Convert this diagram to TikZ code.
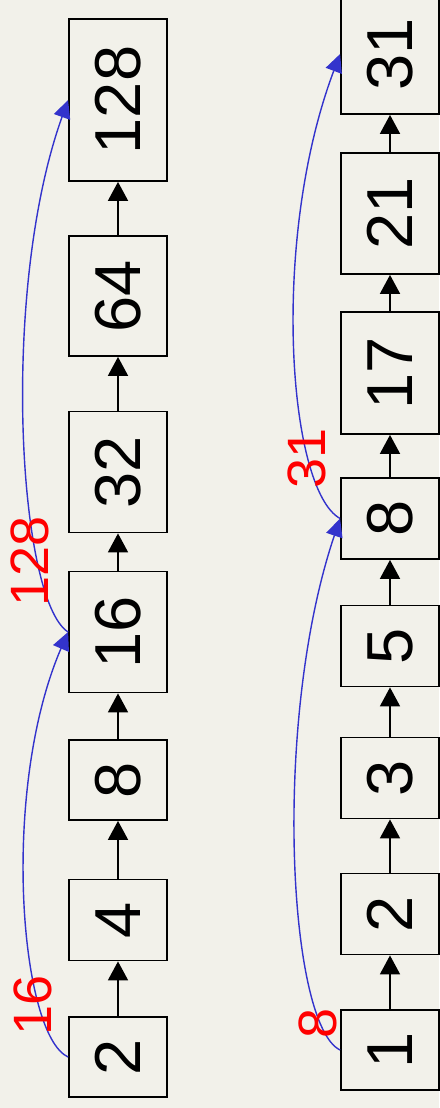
\documentclass[tikz,border=0pt]{standalone}
\usepackage{fontspec}
\usepackage{graphicx}
\setmainfont{Liberation Sans}
\usetikzlibrary{arrows.meta}
\definecolor{paper}{HTML}{F2F1EA}
\definecolor{linkblue}{HTML}{3333CC}
\tikzset{
  cell/.style={draw=black, line width=1.8pt, inner sep=0pt, minimum width=98pt,
    font=\fontsize{65}{78}\selectfont},
  next/.style={draw=black, line width=1.8pt, -{Triangle[length=19pt,width=20pt]}},
  skip/.style={draw=linkblue, line width=1.4pt, -{Triangle[length=18pt,width=17pt]}, linkblue},
  skiplabel/.style={text=red, inner sep=0pt, font=\fontsize{54}{64}\selectfont}
}
\newcommand{\up}[1]{\rotatebox{90}{#1}}
\begin{document}
\begin{tikzpicture}[x=1pt,y=-1pt]
\useasboundingbox (0,0) rectangle (439,1108);
\fill[paper] (0,0) rectangle (439,1108);

% left list
\node[cell, minimum height=80pt]  (a2)   at (118,1057) {\up{2}};
\node[cell, minimum height=81pt]  (a4)   at (118,920)  {\up{4}};
\node[cell, minimum height=80pt]  (a8)   at (118,780)  {\up{8}};
\node[cell, minimum height=121pt] (a16)  at (118,632)  {\up{16}};
\node[cell, minimum height=121pt] (a32)  at (118,472)  {\up{32}};
\node[cell, minimum height=120pt] (a64)  at (118,296)  {\up{64}};
\node[cell, minimum height=162pt] (a128) at (118,100)  {\up{128}};

\draw[next] (a2) -- (a4);
\draw[next] (a4) -- (a8);
\draw[next] (a8) -- (a16);
\draw[next] (a16) -- (a32);
\draw[next] (a32) -- (a64);
\draw[next] (a64) -- (a128);

\draw[skip] (a2.west) .. controls (20,1035) and (0,790) .. (a16.west);
\draw[skip] (a16.west) .. controls (18,600) and (0,290) .. (a128.west);
\node[skiplabel] (la16)  at (33,1005) {\up{16}};
\node[skiplabel] (la128) at (30,561)  {\up{128}};

% right list
\node[cell, minimum height=80pt]  (b1)  at (390,1050) {\up{1}};
\node[cell, minimum height=81pt]  (b2)  at (390,914)  {\up{2}};
\node[cell, minimum height=81pt]  (b3)  at (390,778)  {\up{3}};
\node[cell, minimum height=81pt]  (b5)  at (390,646)  {\up{5}};
\node[cell, minimum height=81pt]  (b8)  at (390,518.5){\up{8}};
\node[cell, minimum height=122pt] (b17) at (390,373)  {\up{17}};
\node[cell, minimum height=121pt] (b21) at (390,213.5){\up{21}};
\node[cell, minimum height=120pt] (b31) at (390,54)   {\up{31}};

\draw[next] (b1) -- (b2);
\draw[next] (b2) -- (b3);
\draw[next] (b3) -- (b5);
\draw[next] (b5) -- (b8);
\draw[next] (b8) -- (b17);
\draw[next] (b17) -- (b21);
\draw[next] (b21) -- (b31);

\draw[skip] (b1.west) .. controls (288,1025) and (272,720) .. (b8.west);
\draw[skip] (b8.west) .. controls (288,490) and (270,240) .. (b31.west);
\node[skiplabel] (lb8)  at (318,1023) {\up{8}};
\node[skiplabel] (lb31) at (307,458)  {\up{31}};
\end{tikzpicture}
\end{document}
